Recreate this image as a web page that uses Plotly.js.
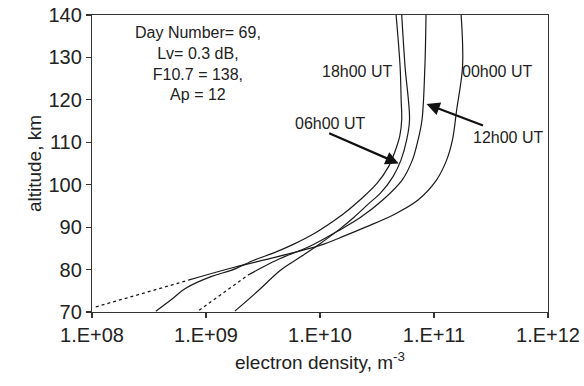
<!DOCTYPE html>
<html>
<head>
<meta charset="utf-8">
<script src="https://cdn.plot.ly/plotly-3.0.1.min.js"></script>
<style>
  html, body { margin: 0; padding: 0; background: #fff; }
  #chart { width: 584px; height: 386px; }
</style>
</head>
<body>
<div id="chart"></div>
<script>
// ---- Data (altitude in km, electron density in m^-3) ----
const alt00 = [77.5, 80.2, 83.0, 85.7, 88.0, 90.0, 93.0, 96.4, 101.1, 105.8, 110.5, 117.6, 127.9, 140];
const dens00 = [7.0e8, 1.58e9, 4.17e9, 1.0e10, 1.66e10, 2.51e10, 4.47e10, 7.24e10, 1.05e11, 1.29e11, 1.45e11, 1.58e11, 1.78e11, 1.73e11];
const alt00Dot = [71.2, 77.5];
const dens00Dot = [1.08e8, 7.0e8];

const alt18 = [70.2, 73.0, 75.5, 78.4, 79.8, 82.2, 84.0, 86.0, 88.5, 91.3, 93.2, 96.4, 100.3, 104.2, 108.0, 111.5, 115.3, 120, 127.9, 140];
const dens18 = [3.63e8, 5.01e8, 6.53e8, 1.12e9, 1.66e9, 2.63e9, 3.98e9, 5.89e9, 8.91e9, 1.29e10, 1.62e10, 2.24e10, 3.16e10, 3.98e10, 4.57e10, 5.01e10, 5.21e10, 5.15e10, 5.04e10, 4.65e10];

const alt06 = [70.2, 75.3, 79.8, 83.0, 86.1, 89.3, 92.4, 95.6, 98.0, 101.9, 105.8, 110.5, 115.3, 127.9, 140];
const dens06 = [1.79e9, 2.95e9, 4.47e9, 6.76e9, 1.0e10, 1.45e10, 2.0e10, 2.69e10, 3.39e10, 4.37e10, 5.13e10, 5.75e10, 6.10e10, 5.57e10, 5.21e10];

const alt12 = [78.7, 80.6, 82.6, 85.6, 89.3, 92.4, 96.4, 101.1, 105.8, 110.5, 115.3, 127.9, 140];
const dens12 = [2.34e9, 3.16e9, 4.47e9, 8.32e9, 1.48e10, 2.29e10, 3.55e10, 5.25e10, 6.46e10, 7.24e10, 7.85e10, 8.32e10, 8.51e10];
const alt12Dot = [70.4, 78.7];
const dens12Dot = [8.71e8, 2.34e9];

const xTickVals = [1e8, 1e9, 1e10, 1e11, 1e12];
const xTickText = ['1.E+08', '1.E+09', '1.E+10', '1.E+11', '1.E+12'];
const yTickVals = [70, 80, 90, 100, 110, 120, 130, 140];

const infoLines = ['Day Number= 69,', 'Lv= 0.3 dB,', 'F10.7 = 138,', 'Ap = 12'];
const curveLabels = ['18h00 UT', '00h00 UT', '06h00 UT', '12h00 UT'];

// ---- Traces ----
const lineColor = '#1a1a1a';
function solid(x, y) {
  return { x: x, y: y, type: 'scatter', mode: 'lines',
    line: { color: lineColor, width: 1.2, shape: 'spline', smoothing: 1.0 },
    hoverinfo: 'skip', showlegend: false };
}
function dotted(x, y) {
  return { x: x, y: y, type: 'scatter', mode: 'lines',
    line: { color: lineColor, width: 1.3, dash: 'dot' },
    hoverinfo: 'skip', showlegend: false };
}

const traces = [
  dotted(dens00Dot, alt00Dot),
  solid(dens00, alt00),
  solid(dens18, alt18),
  solid(dens06, alt06),
  dotted(dens12Dot, alt12Dot),
  solid(dens12, alt12)
];

const font = { family: 'Liberation Sans, Arial, sans-serif', color: '#222' };
const L = Math.log10;

const annotations = [
  { x: L(8.5e8), y: 138.4, xref: 'x', yref: 'y', text: infoLines.join('<br>'),
    showarrow: false, align: 'center', yanchor: 'top',
    font: Object.assign({ size: 16 }, font) },
  { x: L(2.1e10), y: 126.8, text: curveLabels[0], showarrow: false, font: Object.assign({ size: 16 }, font) },
  { x: L(3.6e11), y: 126.8, text: curveLabels[1], showarrow: false, font: Object.assign({ size: 16 }, font) },
  { x: L(1.22e10), y: 114.4, text: curveLabels[2], showarrow: false, font: Object.assign({ size: 16 }, font) },
  { x: L(4.5e11), y: 111.2, text: curveLabels[3], showarrow: false, font: Object.assign({ size: 16 }, font) },
  // arrows
  { x: L(4.9e10), y: 105.0, ax: -71, ay: -31, text: '', showarrow: true,
    arrowhead: 2, arrowsize: 1.2, arrowwidth: 2.2, arrowcolor: '#111' },
  { x: L(8.6e10), y: 119.0, ax: 58, ay: 22, text: '', showarrow: true,
    arrowhead: 2, arrowsize: 1.2, arrowwidth: 2.2, arrowcolor: '#111' }
];

const layout = {
  width: 584, height: 386,
  margin: { l: 92, r: 36, t: 15, b: 74 },
  paper_bgcolor: '#fff', plot_bgcolor: '#fff',
  showlegend: false,
  font: Object.assign({ size: 20 }, font),
  xaxis: {
    type: 'log', range: [8, 12],
    tickvals: xTickVals, ticktext: xTickText,
    ticks: 'outside', ticklen: 5, tickwidth: 1.2, tickcolor: '#333',
    showline: true, mirror: true, linecolor: '#333', linewidth: 1.2,
    showgrid: false, zeroline: false,
    tickfont: Object.assign({ size: 20 }, font),
    title: { text: 'electron density, m<sup>-3</sup>', font: Object.assign({ size: 19 }, font), standoff: 10 }
  },
  yaxis: {
    range: [70, 140],
    tickvals: yTickVals,
    ticks: 'outside', ticklen: 5, tickwidth: 1.2, tickcolor: '#333',
    showline: true, mirror: true, linecolor: '#333', linewidth: 1.2,
    showgrid: false, zeroline: false,
    tickfont: Object.assign({ size: 20 }, font),
    title: { text: 'altitude, km', font: Object.assign({ size: 19 }, font), standoff: 1 }
  },
  annotations: annotations
};

Plotly.newPlot('chart', traces, layout, { staticPlot: true, displayModeBar: false });
</script>
</body>
</html>
